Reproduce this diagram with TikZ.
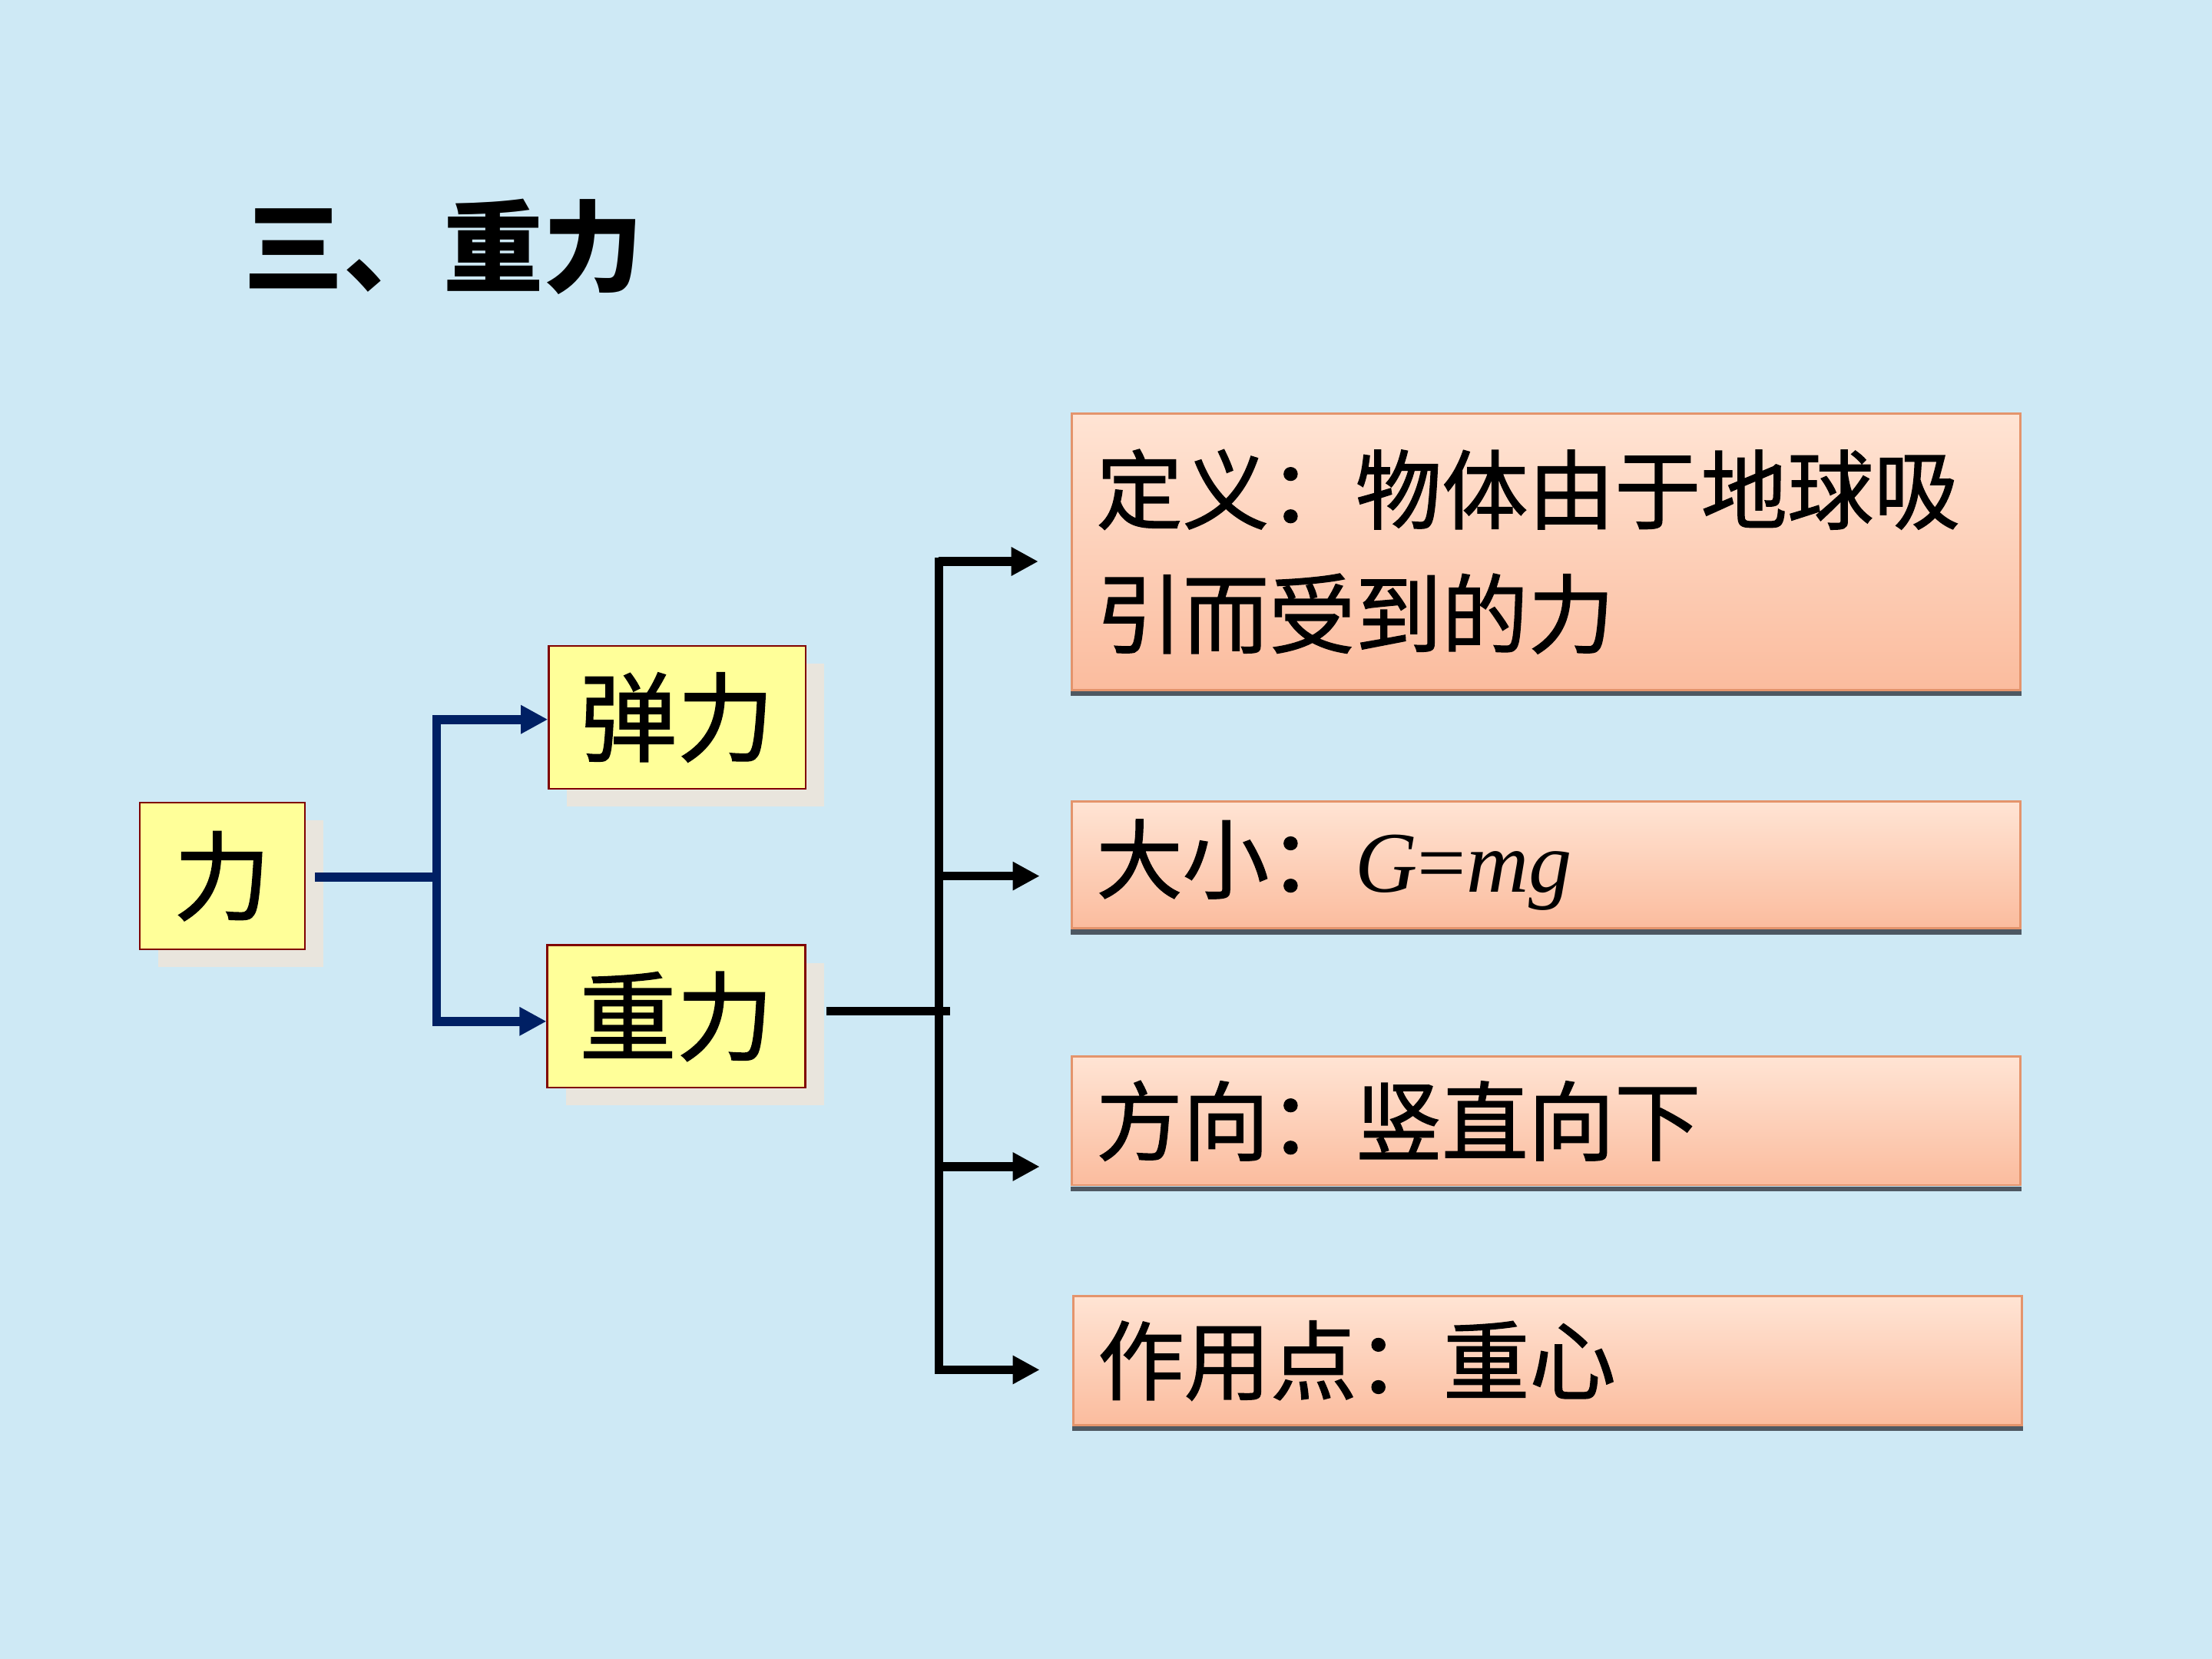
\documentclass[tikz,border=0pt]{standalone}
\usepackage{fontspec}
\setmainfont{Noto Sans CJK SC}[FakeBold=1.2]
\newfontfamily\titlefont{Noto Sans CJK SC}
\newfontfamily\tnr{Liberation Serif}
\usetikzlibrary{arrows.meta,shadows,calc}
\definecolor{bg}{RGB}{206,233,245}
\definecolor{ylw}{RGB}{255,255,153}
\definecolor{boxred}{RGB}{128,0,0}
\definecolor{shd}{RGB}{233,229,221}
\definecolor{navyc}{RGB}{0,32,100}
\definecolor{otop}{RGB}{255,228,212}
\definecolor{obot}{RGB}{251,188,158}
\definecolor{oborder}{RGB}{228,148,108}
\definecolor{stripc}{RGB}{78,88,98}
\tikzset{
 ybox/.style={draw=boxred, line width=0.7pt, fill=ylw, inner sep=0pt,
   general shadow={fill=shd, shadow xshift=6.8pt, shadow yshift=-6.6pt},
   font=\fontsize{36}{40}\selectfont},
 obox/.style={draw=oborder, line width=0.8pt, top color=otop, bottom color=obot,
   text width=333.3pt, inner xsep=9pt, inner ysep=0pt, align=left,
   font=\fontsize{32}{46}\selectfont},
 stripln/.style={draw=stripc, line width=1.8pt},
 navyln/.style={draw=navyc, line width=3.4pt},
 navyarr/.style={navyln, -{Triangle[length=10pt,width=10pt]}},
 blkln/.style={draw=black, line width=3.1pt},
 blkarr/.style={draw=black, line width=3.2pt, -{Triangle[length=10pt,width=10pt]}},
}
\begin{document}
\begin{tikzpicture}[x=0.183673mm,y=-0.183673mm]
\fill[bg] (0,0) rectangle (1568,1176);
\useasboundingbox (0,0) rectangle (1568,1176);

\node[font=\fontsize{37}{40}\selectfont\titlefont\bfseries] (title) at (314.5,175) {三、重力};

\node[ybox, minimum width=61.2pt, minimum height=54.4pt] (li) at (157.5,621) {力};
\node[ybox, minimum width=95.1pt, minimum height=52.8pt] (tl) at (480,508.5) {弹力};
\node[ybox, minimum width=95.6pt, minimum height=52.8pt] (zl) at (479.5,720.5) {重力};

\node[obox, minimum height=102.4pt] (o1) at (1096,391) {定义：物体由于地球吸\\引而受到的力};
\node[obox, minimum height=47pt] (o2) at (1096,613) {大小：{\tnr\itshape G}{\tnr =}{\tnr\itshape mg}};
\node[obox, minimum height=47.6pt] (o3) at (1096,794.5) {方向：竖直向下};
\node[obox, minimum height=47.6pt] (o4) at (1097,964.5) {作用点：重心};

\foreach \b in {o1,o2,o3,o4}{
  \draw[stripln] ($(\b.south west)+(0,2)$) -- ($(\b.south east)+(0,2)$);
}

% navy connectors
\coordinate (nj) at (309.5,621.5);
\draw[navyln] ($(li.east)+(6.5,0.5)$) -- (nj);
\draw[navyarr] (nj) |- ($(tl.west)+(0,1.5)$);
\draw[navyarr] (nj) |- ($(zl.west)+(0,3.5)$);

% black connectors
\coordinate (v1) at (665.5,398);
\coordinate (v2) at (665.5,621);
\coordinate (v3) at (665.5,827);
\coordinate (v4) at (665.5,971);
\coordinate (a1) at (736,398);
\coordinate (a2) at (737,621);
\coordinate (a3) at (737,827);
\coordinate (a4) at (737,971);
\draw[blkln] ($(zl.east)+(14,-3.5)$) -- ($(zl.east)+(102,-3.5)$);
\draw[blkln, line cap=rect] (v1) -- (v4);
\draw[blkarr] (v1) -- (a1);
\draw[blkarr] (v2) -- (a2);
\draw[blkarr] (v3) -- (a3);
\draw[blkarr] (v4) -- (a4);
\end{tikzpicture}
\end{document}
